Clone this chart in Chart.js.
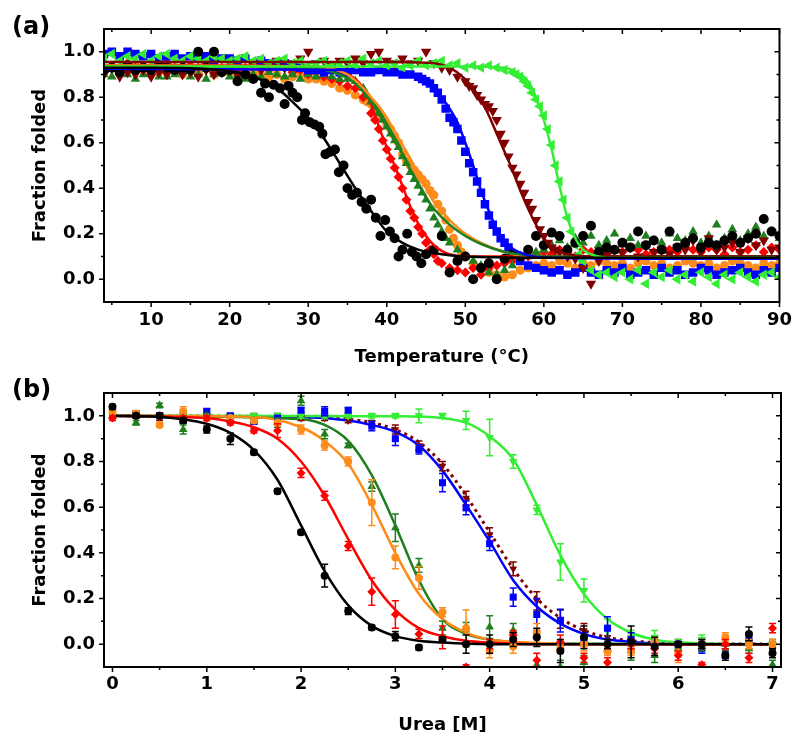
<!DOCTYPE html>
<html><head><meta charset="utf-8">
<script src="https://cdn.jsdelivr.net/npm/chart.js@4.4.1/dist/chart.umd.min.js"></script>
<style>
html,body{margin:0;padding:0;background:#fff;}
#wrap{position:relative;width:800px;height:747px;overflow:hidden;background:#fff;}
.pane{position:absolute;left:0;width:800px;}
.lab{position:absolute;left:12px;font-family:"DejaVu Sans";font-weight:bold;font-size:24px;line-height:24px;color:#000;}
</style></head><body>
<div id="wrap">
<div class="pane" style="top:0;height:370px"><canvas id="ca" width="800" height="370"></canvas></div>
<div class="pane" style="top:370px;height:377px"><canvas id="cb" width="800" height="377"></canvas></div>
<div class="lab" style="top:14px">(a)</div>
<div class="lab" style="top:377px">(b)</div>
</div>
<script>
// ---------------- tick labels ----------------
const yTickVals = [0.0, 0.2, 0.4, 0.6, 0.8, 1.0];
const aXTickVals = [10, 20, 30, 40, 50, 60, 70, 80, 90];
const bXTickVals = [0, 1, 2, 3, 4, 5, 6, 7];

// ---------------- Panel (a): thermal melts ----------------
const aXTitle = 'Temperature (°C)';
const aYTitle = 'Fraction folded';

const blackT = [4,5,6,7,8,9,10,11,12,13,14,15,16,17,18,19,20,21,22,23,24,24.5,25,25.6,26.4,27,27.5,28,28.6,29.2,29.6,30.2,30.8,31.4,31.8,32.2,32.8,33.4,33.9,34.5,35,35.6,36.2,36.8,37.4,38,38.6,39.2,39.8,40.4,41,41.5,42,42.6,43.2,43.8,44.4,45,46,47,48,49,50,51,52,53,54,55,56,57,58,59,60,61,62,63,64,65,66,67,68,69,70,71,72,73,74,75,76,77,78,79,80,81,82,83,84,85,86,87,88,89,90];
const blackV = [.92,.93,.91,.94,.92,.93,.92,.94,.93,.92,.93,.92,1.0,.93,1.0,.91,.92,.87,.90,.88,.82,
 .86,.80,.855,.84,.77,.85,.82,.80,.70,.73,.69,.68,.67,.64,.55,.56,.57,.47,.50,.40,.37,.38,.34,.31,.35,.27,.19,.26,.21,.18,.10,.13,.20,.12,.10,.07,.11,
 .13,.19,.03,.08,.10,.00,.05,.07,.00,.09,.11,.10,.13,.19,.15,.205,.19,.13,.16,.19,.235,.12,.14,.13,.16,.14,.21,.15,.17,.13,.21,.14,.16,.18,.14,.16,.15,.17,.19,.16,.18,.20,.265,.21,.19];

const redT = [4,5,6,7,8,9,10,11,12,13,14,15,16,17,18,19,20,21,22,23,24,25,26,27,28,29,30,31,32,33,34,35,36,37,38,38.5,39,39.5,40,40.5,41,41.5,42,42.5,43,43.5,44,44.5,45,45.5,46,46.5,47,48,49,50,51,52,53,54,55,56,57,58,59,60,61,62,63,64,65,66,67,68,69,70,71,72,73,74,75,76,77,78,79,80,81,82,83,84,85,86,87,88,89,90];
const redV = [.93,.94,.92,.95,.93,.94,.92,.93,.95,.93,.92,.94,.93,.95,.92,.93,.94,.92,.93,.95,.93,.92,.94,.93,.91,.92,.90,.91,.89,.88,.87,
 .85,.84,.80,.73,
 .70,.66,.61,.57,.53,.49,.45,.40,.35,.30,.27,.23,.20,.16,.13,.11,.08,.07,
 .05,.04,.03,.05,.02,.05,.06,.07,.08,.09,.10,.11,.12,
 .11,.13,.12,.10,.13,.12,.14,.11,.13,.12,.14,.13,.11,.12,.14,.13,.12,.15,.13,.12,.14,.13,.11,.14,.12,.13,.15,.12,.14,.13];

const orangeT = [4,5,6,7,8,9,10,11,12,13,14,15,16,17,18,19,20,21,22,23,24,25,26,27,28,29,30,31,32,33,34,35,36,37,37.5,38,38.5,39,39.5,40,40.5,41,41.5,42,42.5,43,43.5,44,44.5,45,45.5,46,46.5,47,47.5,48,48.5,49,49.5,50,51,52,53,54,55,56,57,58,59,60,61,62,63,64,65,66,67,68,69,70,71,72,73,74,75,76,77,78,79,80,81,82,83,84,85,86,87,88,89,90];
const orangeV = [.92,.93,.91,.92,.94,.92,.93,.91,.92,.93,.90,.92,.91,.93,.90,.92,.91,.90,.89,.91,.90,.89,.90,.88,.89,.90,.88,
 .88,.87,.86,.84,.83,.81,.79,
 .78,.77,.75,.73,.71,.68,.66,.63,.60,.55,.52,.50,.48,.46,.44,.42,.39,.37,.33,.30,.26,.22,.18,.15,.12,.10,
 .07,.05,.03,.02,.01,.02,.04,.05,.06,.07,.06,.08,.07,.05,.07,.06,.08,.07,.06,.07,.05,.07,.08,.06,.07,.05,.06,.08,.07,.06,.07,.05,.06,.08,.07,.06,.05,.07,.06,.07];

const greenT = [4,5,6,7,8,9,10,11,12,13,14,15,16,17,18,19,20,21,22,23,24,25,26,27,28,29,30,31,32,33,34,35,36,37,37.5,38,38.5,39,39.5,40,40.5,41,41.5,42,42.5,43,43.5,44,44.5,45,45.5,46,46.5,47,47.5,48,49,50,51,52,53,54,55,56,57,58,59,60,61,62,63,64,65,66,67,68,69,70,71,72,73,74,75,76,77,78,79,80,81,82,83,84,85,86,87,88,89,90];
const greenV = [.90,.89,.91,.90,.88,.90,.91,.89,.89,.90,.91,.89,.90,.88,.90,.91,.89,.90,.88,.90,.89,.91,.90,.89,.90,.88,.90,.89,.90,.89,.88,.88,
 .87,.84,
 .81,.78,.76,.73,.70,.67,.64,.61,.58,.54,.51,.47,.44,.41,.38,.35,.31,.27,.24,.21,.18,.16,
 .13,.10,.08,.06,.03,.02,.04,.06,.08,.10,.12,.13,.15,.17,.14,.18,.16,.19,.15,.17,.20,.16,.18,.15,.19,.17,.16,.20,.18,.17,.21,.16,.19,.24,.18,.22,.17,.20,.23,.19,.21,.18];

const blueT = [4,5,6,7,8,9,10,11,12,13,14,15,16,17,18,19,20,21,22,23,24,25,26,27,28,29,30,31,32,33,34,35,36,37,38,39,40,41,42,43,44,44.5,45,45.5,46,46.5,47,47.5,48,48.5,49,49.5,50,50.5,51,51.5,52,52.5,53,53.5,54,54.5,55,55.5,56,57,58,59,60,61,62,63,64,65,66,67,68,69,70,71,72,73,74,75,76,77,78,79,80,81,82,83,84,85,86,87,88,89,90];
const blueV = [.99,1.0,.98,1.0,.99,.98,.99,.97,.98,.99,.97,.98,.97,.98,.96,.97,.97,.96,.97,.95,.96,.95,.94,.95,.94,.93,.92,.92,.91,.92,.91,.91,.92,.91,.91,.92,.91,.91,.90,.90,.89,
 .88,.87,.86,.84,.82,.79,.75,.71,.69,.66,.61,.56,.51,.47,.43,.38,.33,.28,.24,.21,.18,.16,.14,.11,
 .08,.06,.05,.04,.03,.04,.02,.03,.05,.03,.02,.04,.03,.05,.02,.03,.04,.02,.05,.03,.04,.02,.03,.05,.04,.02,.03,.04,.05,.03,.02,.04,.03,.05];

const brownT = [4,5,6,7,8,9,10,11,12,13,14,15,16,17,18,19,20,21,22,23,24,25,26,27,28,29,30,31,32,33,34,35,36,37,38,39,40,41,42,43,44,45,46,47,48,49,50,50.5,51,51.5,52,52.5,53,53.5,54,54.5,55,55.5,56,56.5,57,57.5,58,58.5,59,59.5,60,60.5,61,61.5,62,63,64,65,66,67,68,69,70,71,72,73,74,75,76,77,78,79,80,81,82,83,84,85,86,87,88,89,90];
const brownV = [.90,.93,.89,.91,.90,.92,.89,.91,.90,.93,.90,.91,.89,.92,.90,.91,.92,.90,.93,.95,.92,.94,.96,.93,.95,.97,1.0,.95,.96,.94,.96,.95,.97,.95,.99,1.0,.96,.95,.97,.95,.96,1.0,.95,.93,.92,.89,.87,
 .85,.84,.81,.79,.77,.76,.74,.70,.64,.60,.54,.49,.46,.42,.38,.34,.31,.26,.22,.19,.16,.14,.13,.12,
 .10,.09,.05,-.02,.08,.11,.13,.12,.14,.10,.15,.12,.13,.11,.14,.13,.17,.12,.18,.13,.14,.16,.12,.18,.15,.17,.13,.14];

const limeT = [4,5,6,7,8,9,10,11,12,13,14,15,16,17,18,19,20,21,22,23,24,25,26,27,28,29,30,31,32,33,34,35,36,37,38,39,40,41,42,43,44,45,46,47,48,49,50,51,52,53,54,55,56,56.5,57,57.5,58,58.5,59,59.5,60,60.5,61,61.5,62,62.5,63,63.5,64,64.5,65,66,67,68,69,70,71,72,73,74,75,76,77,78,79,80,81,82,83,84,85,86,87,88,89,90];
const limeV = [.97,.99,.96,.98,.97,.99,.96,.98,.99,.97,.96,.98,.97,.96,.98,.97,.96,.97,.98,.96,.97,.95,.96,.97,.95,.96,.94,.95,.96,.94,.95,.96,.94,.97,.95,.96,.94,.95,.93,.94,.96,.94,.95,.96,.94,.95,.93,.94,.93,.94,.93,.92,.91,
 .90,.89,.87,.85,.82,.79,.76,.72,.66,.59,.50,.43,.35,.27,.21,.15,.11,.08,
 .04,.02,.03,.01,.03,.00,.04,-.02,.03,.01,.04,.00,.02,-.01,.03,.01,-.02,.02,.00,.03,.01,-.01,.02,.03,.01];

// fitted curves (a)
const fitBlackT = [4,10,15,20,23,26,28,30,32,34,36,38,40,42,44,46,48,50,55,60,90];
const fitBlackV = [.93,.93,.928,.915,.89,.84,.78,.71,.62,.51,.40,.30,.21,.16,.13,.115,.105,.10,.096,.095,.095];
const fitRedT = [4,20,30,34,36,37,38,39,40,41,42,43,44,45,46,47,48,50,52,55,60,90];
const fitRedV = [.94,.94,.935,.915,.88,.84,.77,.67,.58,.50,.41,.32,.245,.19,.15,.125,.11,.10,.10,.10,.10,.10];
const fitOrangeT = [4,30,35,37,38,39,40,41,42,43,44,45,46,47,48,50,52,55,58,60,90];
const fitOrangeV = [.94,.935,.90,.84,.80,.76,.71,.65,.59,.53,.46,.40,.34,.30,.26,.20,.16,.12,.10,.097,.095];
const fitGreenT = [4,30,34,36,38,40,41,42,43,44,45,46,48,50,52,55,58,60,90];
const fitGreenV = [.935,.93,.90,.86,.78,.67,.61,.55,.48,.42,.36,.31,.24,.19,.155,.12,.105,.10,.10];
const fitBlueT = [4,35,40,43,45,46,47,48,49,50,51,52,53,54,55,56,58,60,90];
const fitBlueV = [.925,.92,.915,.90,.87,.84,.80,.75,.69,.60,.50,.39,.30,.22,.17,.135,.105,.095,.09];
const fitBrownT = [4,40,46,48,50,51,52,53,54,55,56,57,58,59,60,61,62,64,66,90];
const fitBrownV = [.955,.955,.95,.93,.88,.84,.79,.72,.64,.56,.48,.39,.31,.24,.18,.14,.12,.105,.10,.10];
const fitLimeT = [4,50,55,57,58,59,60,61,62,63,64,65,66,68,90];
const fitLimeV = [.935,.935,.93,.90,.87,.80,.70,.57,.41,.27,.18,.13,.11,.095,.095];

// ---------------- Panel (b): urea denaturation ----------------
const bXTitle = 'Urea [M]';
const bYTitle = 'Fraction folded';
const bUrea = [0,0.25,0.5,0.75,1,1.25,1.5,1.75,2,2.25,2.5,2.75,3,3.25,3.5,3.75,4,4.25,4.5,4.75,5,5.25,5.5,5.75,6,6.25,6.5,6.75,7];
const bBlack  = [1.04,1.0,1.0,0.98,0.94,0.90,0.84,0.67,0.49,0.30,0.145,0.073,0.035,-0.015,0.02,0.0,0.0,0.02,0.03,-0.03,0.03,0.0,0.01,-0.01,0.0,0.0,-0.05,0.045,-0.04];
const bBlackE = [0.01,0.01,0.01,0.01,0.015,0.025,0.01,0.01,0.01,0.05,0.015,0.01,0.02,0.01,0.01,0.04,0.04,0.03,0.04,0.05,0.05,0.02,0.07,0.04,0.01,0.02,0.02,0.03,0.02];
const bRed    = [0.99,1.0,1.0,0.99,0.99,0.97,0.935,0.935,0.75,0.65,0.43,0.23,0.13,0.045,0.03,-0.10,0.0,0.04,-0.07,0.01,-0.06,-0.08,0.0,-0.02,-0.05,-0.09,0.0,-0.06,0.07];
const bRedE   = [0.01,0.01,0.01,0.01,0.01,0.01,0.01,0.03,0.02,0.02,0.02,0.06,0.06,0.02,0.05,0.01,0.02,0.02,0.03,0.03,0.02,0.02,0.02,0.02,0.02,0.01,0.02,0.02,0.02];
const bOrange = [1.02,1.01,0.96,1.02,0.99,0.99,0.98,0.97,0.94,0.87,0.80,0.62,0.38,0.29,0.14,0.07,-0.03,-0.01,0.05,-0.02,0.0,-0.03,-0.03,0.01,-0.04,0.0,0.03,0.0,0.0];
const bOrangeE= [0.01,0.01,0.01,0.02,0.01,0.01,0.01,0.01,0.02,0.02,0.02,0.10,0.05,0.05,0.02,0.08,0.03,0.03,0.04,0.02,0.03,0.02,0.02,0.02,0.04,0.02,0.02,0.02,0.02];
const bGreen  = [1.0,0.97,1.045,0.94,1.0,0.99,0.98,0.97,1.066,0.92,0.87,0.69,0.51,0.345,0.07,0.075,0.075,0.06,-0.09,-0.10,-0.08,-0.02,-0.03,-0.05,-0.02,-0.01,0.0,-0.02,-0.09];
const bGreenE = [0.01,0.01,0.01,0.02,0.01,0.01,0.01,0.02,0.02,0.02,0.01,0.02,0.06,0.03,0.03,0.02,0.05,0.03,0.02,0.03,0.03,0.02,0.04,0.03,0.02,0.02,0.02,0.02,0.02];
const bBlue   = [1.03,1.01,1.0,0.98,1.02,1.0,0.975,0.99,1.025,1.02,1.025,0.955,0.90,0.853,0.707,0.597,0.44,0.206,0.13,0.103,0.02,0.07,0.02,0.0,0.0,-0.02,-0.05,0.02,-0.01];
const bBlueE  = [0.01,0.01,0.01,0.01,0.01,0.01,0.01,0.01,0.01,0.02,0.01,0.02,0.03,0.02,0.04,0.03,0.03,0.04,0.07,0.05,0.03,0.05,0.03,0.02,0.01,0.02,0.01,0.02,0.02];
const bBrown  = [1.0,1.0,0.99,1.0,1.0,0.99,1.0,1.0,0.99,0.99,0.98,0.97,0.94,0.87,0.78,0.64,0.48,0.33,0.19,0.11,0.06,0.03,0.0,0.0,0.0,0.0,0.0,0.0,0.0];
const bBrownE = [0.01,0.01,0.01,0.01,0.01,0.01,0.01,0.01,0.01,0.01,0.01,0.01,0.02,0.02,0.02,0.03,0.03,0.03,0.04,0.04,0.03,0.03,0.02,0.02,0.02,0.02,0.02,0.02,0.02];
const bLime   = [1.0,1.0,1.0,1.0,1.0,1.0,1.0,1.0,1.0,1.0,1.0,1.0,1.0,1.0,1.0,0.98,0.905,0.80,0.588,0.36,0.235,0.06,0.03,0.03,0.0,0.02,0.0,0.0,0.0];
const bLimeE  = [0.01,0.01,0.01,0.01,0.01,0.01,0.01,0.01,0.01,0.01,0.01,0.01,0.01,0.03,0.01,0.04,0.08,0.03,0.02,0.08,0.05,0.05,0.03,0.03,0.02,0.02,0.02,0.02,0.02];

const fbBlackX = [0,0.5,0.75,1,1.25,1.5,1.75,2,2.25,2.5,2.75,3,3.25,3.5,4,7];
const fbBlackV = [1.0,0.995,0.985,0.965,0.925,0.85,0.72,0.52,0.32,0.17,0.08,0.035,0.015,0.007,0.0,0.0];
const fbRedX = [0,1,1.25,1.5,1.75,2,2.25,2.5,2.75,3,3.25,3.5,3.75,4,4.5,7];
const fbRedV = [1.0,0.99,0.975,0.95,0.9,0.8,0.65,0.46,0.28,0.15,0.07,0.035,0.015,0.007,0,0];
const fbOrangeX = [0,1.5,2,2.25,2.5,2.75,3,3.25,3.5,3.75,4,4.5,5,7];
const fbOrangeV = [1.0,0.995,0.95,0.89,0.79,0.61,0.40,0.22,0.11,0.05,0.02,0.005,0,0];
const fbGreenX = [0,2,2.25,2.5,2.75,3,3.25,3.5,3.75,4,4.5,7];
const fbGreenV = [1.0,0.985,0.96,0.89,0.74,0.52,0.28,0.11,0.045,0.02,0.003,0];
const fbBlueX = [0,2,2.5,2.75,3,3.25,3.5,3.75,4,4.25,4.5,4.75,5,5.25,5.5,6,7];
const fbBlueV = [1.0,0.995,0.98,0.96,0.93,0.87,0.76,0.61,0.45,0.28,0.165,0.09,0.045,0.02,0.01,0,0];
const fbBrownX = [0,2,2.5,2.75,3,3.25,3.5,3.75,4,4.25,4.5,4.75,5,5.25,5.5,6,7];
const fbBrownV = [1.0,0.995,0.985,0.97,0.94,0.885,0.79,0.65,0.49,0.33,0.20,0.115,0.06,0.03,0.015,0.003,0];
const fbLimeX = [0,3,3.5,3.75,4,4.25,4.5,4.75,5,5.25,5.5,5.75,6,6.5,7];
const fbLimeV = [1.0,0.998,0.99,0.97,0.91,0.81,0.61,0.39,0.22,0.11,0.05,0.02,0.008,0,0];

// ---------------- styling ----------------
const C = {black:'#000000', red:'#ff0000', orange:'#ff8c1a', green:'#1f7f1f', blue:'#0000ff', brown:'#800000', lime:'#33ee33'};
const FONT = {family:'"DejaVu Sans"', size:18, weight:'bold'};

function pts(xs, ys) { return xs.map((x, i) => ({x: x, y: ys[i]})); }
function scat(label, xs, ys, color, style, r, rot, order, errs) {
  return {type:'scatter', label, data: pts(xs, ys), errs: errs || null,
    backgroundColor: color, borderColor: color, pointBackgroundColor: color, pointBorderColor: color,
    pointStyle: style, pointRadius: r, pointRotation: rot, pointBorderWidth: 0, showLine: false, order};
}
function fit(label, xs, ys, color, order, width, dash) {
  return {type:'line', label, data: pts(xs, ys), borderColor: color, backgroundColor: color,
    borderWidth: width, pointRadius: 0, fill: false, cubicInterpolationMode: 'monotone',
    borderDash: dash || [], order};
}

const errorBars = {
  id: 'errorBars',
  beforeDatasetDraw(chart, args) {
    const ds = chart.data.datasets[args.index];
    if (!ds.errs) return;
    const {ctx, chartArea: a} = chart;
    const xs = chart.scales.x, ys = chart.scales.y;
    ctx.save();
    ctx.beginPath(); ctx.rect(a.left, a.top, a.right - a.left, a.bottom - a.top); ctx.clip();
    ctx.strokeStyle = ds.borderColor; ctx.lineWidth = 1.5;
    ctx.beginPath();
    ds.data.forEach((p, i) => {
      const e = ds.errs[i]; if (!e) return;
      const px = xs.getPixelForValue(p.x);
      const y1 = ys.getPixelForValue(p.y + e), y2 = ys.getPixelForValue(p.y - e);
      ctx.moveTo(px, y1); ctx.lineTo(px, y2);
      ctx.moveTo(px - 3.5, y1); ctx.lineTo(px + 3.5, y1);
      ctx.moveTo(px - 3.5, y2); ctx.lineTo(px + 3.5, y2);
    });
    ctx.stroke();
    ctx.restore();
  }
};

const frameTicks = {
  id: 'frameTicks',
  afterDraw(chart, args, o) {
    const {ctx, chartArea: a} = chart;
    const xs = chart.scales.x, ys = chart.scales.y;
    ctx.save();
    ctx.strokeStyle = '#000'; ctx.lineWidth = 1.5;
    ctx.beginPath();
    const nx = Math.round((o.xTo - o.xFrom) / o.xStep);
    for (let i = 0; i <= nx; i++) {
      const v = o.xFrom + i * o.xStep;
      const major = Math.abs(v / o.xMajor - Math.round(v / o.xMajor)) < 1e-6;
      const px = xs.getPixelForValue(v), L = major ? 5 : 3;
      ctx.moveTo(px, a.bottom); ctx.lineTo(px, a.bottom + L);
      ctx.moveTo(px, a.top); ctx.lineTo(px, a.top + L);
    }
    const ny = Math.round((o.yTo - o.yFrom) / o.yStep);
    for (let i = 0; i <= ny; i++) {
      const v = o.yFrom + i * o.yStep;
      const major = Math.abs(v / o.yMajor - Math.round(v / o.yMajor)) < 1e-6;
      const py = ys.getPixelForValue(v), L = major ? 5 : 3;
      ctx.moveTo(a.left - L, py); ctx.lineTo(a.left, py);
      ctx.moveTo(a.right - L, py); ctx.lineTo(a.right, py);
    }
    ctx.stroke();
    ctx.lineWidth = 2;
    ctx.strokeRect(a.left, a.top, a.right - a.left, a.bottom - a.top);
    ctx.restore();
  }
};

function makeOptions(c) {
  return {
    responsive: false, animation: false, events: [],
    layout: {padding: {left: 0, right: 19, top: c.top, bottom: 0}},
    plugins: {legend: {display: false}, tooltip: {enabled: false}, frameTicks: c.ticks},
    scales: {
      x: {type: 'linear', position: 'bottom', min: c.xmin, max: c.xmax,
        grid: {display: false, drawTicks: false}, border: {display: false},
        afterBuildTicks: s => { s.ticks = c.xticks.map(v => ({value: v})); },
        ticks: {padding: c.xpad, color: '#000', font: FONT,
          maxRotation: 0, autoSkip: false, callback: v => String(v)},
        title: {display: true, text: c.xtitle, color: '#000', font: FONT, padding: {top: 0, bottom: c.xtpad}},
        afterFit: s => { s.height = c.xh; }},
      y: {type: 'linear', position: 'left', min: -0.1, max: 1.1,
        grid: {display: false, drawTicks: false}, border: {display: false},
        afterBuildTicks: s => { s.ticks = yTickVals.map(v => ({value: v})); },
        ticks: {padding: 9, color: '#000', font: FONT, autoSkip: false,
          callback: v => Number(v).toFixed(1)},
        title: {display: true, text: c.ytitle, color: '#000', font: FONT, padding: {top: 30, bottom: 0}},
        afterFit: s => { s.width = 104; }}
    }
  };
}

new Chart(document.getElementById('ca'), {
  type: 'scatter',
  data: {datasets: [
    fit('Black fit', fitBlackT, fitBlackV, C.black, 0, 2.5),
    fit('Lime fit', fitLimeT, fitLimeV, C.lime, 1, 2.5),
    fit('Brown fit', fitBrownT, fitBrownV, C.brown, 2, 2.5),
    fit('Blue fit', fitBlueT, fitBlueV, C.blue, 3, 2.5),
    fit('Green fit', fitGreenT, fitGreenV, C.green, 4, 2.5),
    fit('Orange fit', fitOrangeT, fitOrangeV, C.orange, 5, 2.5),
    fit('Red fit', fitRedT, fitRedV, C.red, 6, 2.5),
    scat('Black', blackT, blackV, C.black, 'circle', 5, 0, 10),
    scat('Lime', limeT, limeV, C.lime, 'triangle', 6, -90, 11),
    scat('Brown', brownT, brownV, C.brown, 'triangle', 6, 180, 12),
    scat('Blue', blueT, blueV, C.blue, 'rect', 6, 0, 13),
    scat('Green', greenT, greenV, C.green, 'triangle', 5.5, 0, 14),
    scat('Red', redT, redV, C.red, 'rectRot', 5, 0, 15),
    scat('Orange', orangeT, orangeV, C.orange, 'circle', 4.5, 0, 16)
  ]},
  options: makeOptions({top: 29, xmin: 4, xmax: 90, xticks: aXTickVals, xpad: 8, xtpad: 2, xh: 68,
    xtitle: aXTitle, ytitle: aYTitle,
    ticks: {xFrom: 5, xTo: 90, xStep: 5, xMajor: 10, yFrom: 0, yTo: 1.0, yStep: 0.1, yMajor: 0.2}}),
  plugins: [frameTicks]
});

new Chart(document.getElementById('cb'), {
  type: 'scatter',
  data: {datasets: [
    scat('Black', bUrea, bBlack, C.black, 'circle', 4, 0, 0, bBlackE),
    scat('Red', bUrea, bRed, C.red, 'rectRot', 4.5, 0, 1, bRedE),
    scat('Orange', bUrea, bOrange, C.orange, 'circle', 4, 0, 2, bOrangeE),
    scat('Green', bUrea, bGreen, C.green, 'triangle', 5, 0, 3, bGreenE),
    scat('Blue', bUrea, bBlue, C.blue, 'rect', 5, 0, 4, bBlueE),
    scat('Lime', bUrea, bLime, C.lime, 'triangle', 5, 180, 5, bLimeE),
    scat('Brown', bUrea, bBrown, C.brown, 'triangle', 4.5, 180, 6, bBrownE),
    fit('Black fit', fbBlackX, fbBlackV, C.black, 10, 2.5),
    fit('Red fit', fbRedX, fbRedV, C.red, 11, 2.5),
    fit('Orange fit', fbOrangeX, fbOrangeV, C.orange, 12, 2.5),
    fit('Green fit', fbGreenX, fbGreenV, C.green, 13, 2.5),
    fit('Lime fit', fbLimeX, fbLimeV, C.lime, 14, 2.5),
    fit('Blue fit', fbBlueX, fbBlueV, C.blue, 15, 2.5),
    fit('Brown fit', fbBrownX, fbBrownV, C.brown, 16, 3, [3, 4])
  ]},
  options: makeOptions({top: 23, xmin: -0.09, xmax: 7.09, xticks: bXTickVals, xpad: 7, xtpad: 11, xh: 80,
    xtitle: bXTitle, ytitle: bYTitle,
    ticks: {xFrom: 0, xTo: 7, xStep: 0.5, xMajor: 1, yFrom: 0, yTo: 1.0, yStep: 0.1, yMajor: 0.2}}),
  plugins: [frameTicks, errorBars]
});
</script>
</body></html>
